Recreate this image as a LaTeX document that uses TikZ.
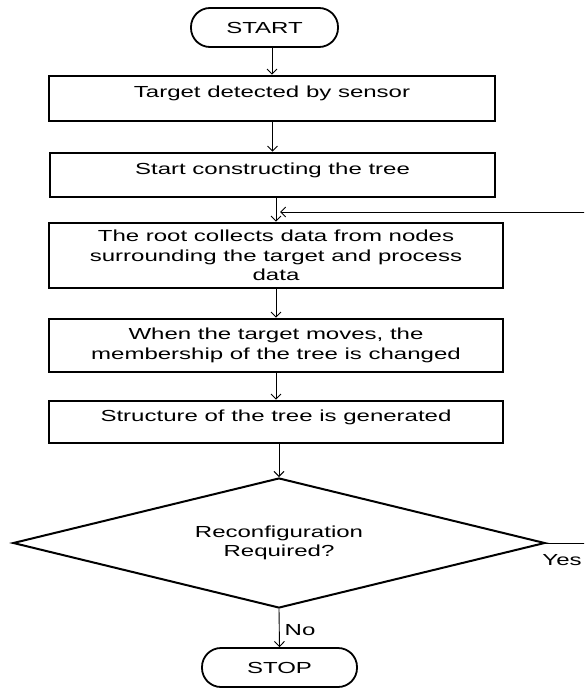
\documentclass[tikz,border=0pt]{standalone}
\usepackage{fontspec}
\setmainfont{Liberation Sans}[FakeStretch=1.5]
\usetikzlibrary{shapes.geometric,arrows.meta}
\begin{document}
\begin{tikzpicture}[x=1pt,y=-1pt,
  every node/.style={font=\fontsize{16}{19.5}\selectfont},
  term/.style={draw,line width=1.8pt,rounded corners=19pt,minimum height=39pt,inner sep=0pt},
  box/.style={draw,line width=2.6pt,inner xsep=0pt,inner ysep=0pt,align=center},
  decision/.style={draw,diamond,line width=2pt,aspect=4.1,minimum width=532pt,minimum height=130pt,inner sep=0pt,align=center},
  arr/.style={line width=0.9pt,-{Straight Barb[length=5pt,width=10pt]}},
  lbl/.style={inner sep=0pt,anchor=base west}]
\clip (0,0) rectangle (584,690);
\fill[white] (0,0) rectangle (584,690);

\node[term,minimum width=147pt] (start) at (264.5,27.5) {START};
\node[box,minimum width=446pt,text height=21.7pt,text depth=23.3pt] (b1) at (272,98.5) {Target detected by sensor};
\node[box,minimum width=445pt,text height=21pt,text depth=23pt] (b2) at (272.5,175) {Start constructing the tree};
\node[box,minimum width=454pt,minimum height=65pt] (b3) at (276,255.5) {The root collects data from nodes\\surrounding the target and process\\data};
\node[box,minimum width=454pt,minimum height=53pt] (b4) at (276,345.5) {When the target moves, the\\membership of the tree is changed};
\node[box,minimum width=454pt,text height=20pt,text depth=22pt] (b5) at (276,422) {Structure of the tree is generated};
\node[decision] (dec) at (279,543) {Reconfiguration\\Required?};
\node[term,minimum width=155pt] (stop) at (279.5,667.5) {STOP};
\coordinate (fb) at (280,212);

\draw[arr] (start.south -| b1.north) -- (b1.north);
\draw[arr] (b1.south -| b2.north) -- (b2.north);
\draw[arr] (b2.south -| b3.north) -- (b3.north);
\draw[arr] (b3.south) -- (b4.north);
\draw[arr] (b4.south) -- (b5.north);
\draw[arr] (b5.south -| dec.north) -- (dec.north);
\draw[arr] (dec.south) -- node[lbl,xshift=5pt,yshift=-7.7pt]{No} (stop.north);
\draw[arr] (dec.east) -- node[lbl,pos=0,xshift=-4pt,yshift=-22pt]{Yes} ++(50,0) |- (fb);
\end{tikzpicture}
\end{document}
